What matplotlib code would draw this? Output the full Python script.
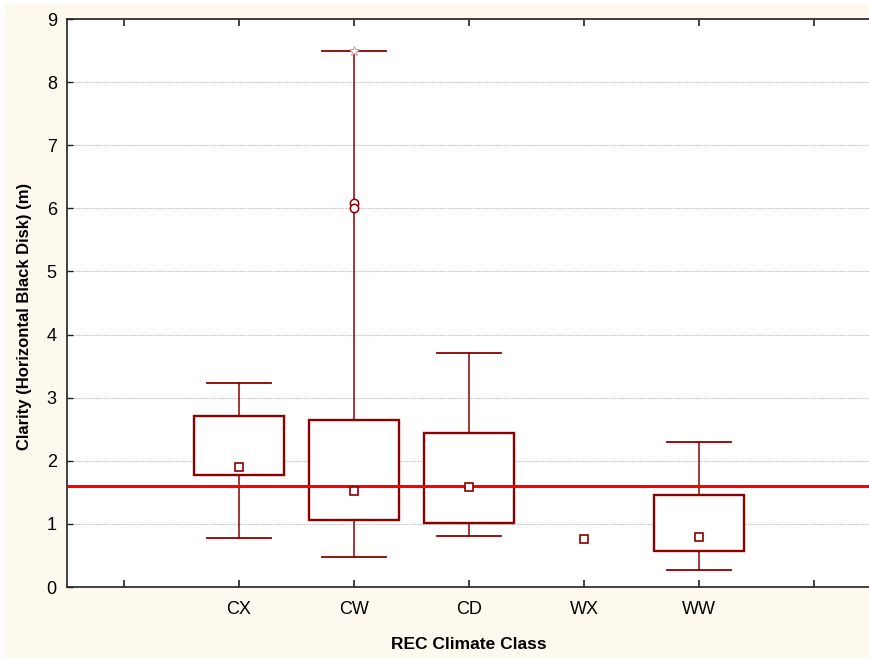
import matplotlib
matplotlib.use("Agg")
import matplotlib.pyplot as plt
from matplotlib.patches import Rectangle
import numpy as np

plt.rcParams['font.family'] = ['Liberation Sans', 'DejaVu Sans']

# Water clarity summary by REC climate class
categories = ["CX", "CW", "CD", "WX", "WW"]
medians = [1.90, 1.52, 1.59, 0.76, 0.80]
q1 = [1.78, 1.06, 1.02, np.nan, 0.575]
q3 = [2.71, 2.65, 2.44, np.nan, 1.45]
whisk_lo = [0.77, 0.48, 0.81, np.nan, 0.27]
whisk_hi = [3.24, 8.50, 3.70, np.nan, 2.30]
outliers = {"CW": [6.08, 6.01]}
extremes = {"CW": [8.50]}
guideline = 1.6

yticks = [0, 1, 2, 3, 4, 5, 6, 7, 8, 9]

dark_red = "#8b0000"
cream = "#fdf9ee"

fig = plt.figure(figsize=(8.69, 6.58), dpi=100, facecolor="white")
fig.patches.append(Rectangle((5 / 869, 0), 1, 1 - 4 / 658, transform=fig.transFigure,
                             facecolor=cream, edgecolor="none", zorder=-10))

ax = fig.add_axes([66.5 / 869, 71 / 658, 805 / 869, 568 / 658])
ax.set_facecolor("white")

positions = np.arange(1, len(categories) + 1)

stats = []
box_pos = []
for i, c in enumerate(categories):
    if np.isnan(q1[i]):
        continue
    stats.append(dict(med=medians[i], q1=q1[i], q3=q3[i],
                      whislo=whisk_lo[i], whishi=whisk_hi[i], fliers=[], label=c))
    box_pos.append(positions[i])

ax.bxp(stats, positions=box_pos, widths=0.79, capwidths=0.56,
       patch_artist=True, showfliers=False,
       boxprops=dict(facecolor="white", edgecolor=dark_red, linewidth=1.7),
       whiskerprops=dict(color=dark_red, linewidth=1.1),
       capprops=dict(color=dark_red, linewidth=1.3),
       medianprops=dict(linewidth=0),
       zorder=2)

# reference line
ax.axhline(guideline, color="#ff0000", linewidth=2.2, zorder=3)

# medians as open squares
ax.plot(positions, medians, linestyle="none", marker="s", markersize=6,
        markerfacecolor="white", markeredgecolor=dark_red, markeredgewidth=1.2, zorder=4)

# outliers and extremes
for c, vals in outliers.items():
    p = positions[categories.index(c)]
    ax.plot([p] * len(vals), vals, linestyle="none", marker="o", markersize=6,
            markerfacecolor="white", markeredgecolor=dark_red, markeredgewidth=1.1, zorder=4)
for c, vals in extremes.items():
    p = positions[categories.index(c)]
    ax.plot([p] * len(vals), vals, linestyle="none", marker="*", markersize=7,
            markerfacecolor="white", markeredgecolor="#d9a0a0", markeredgewidth=0.8, zorder=4)

ax.set_xlim(-0.5, 6.5)
ax.set_ylim(0, 9)
ax.set_yticks(yticks)
ax.set_xticks(np.arange(0, len(categories) + 2))
ax.set_xticklabels([""] + categories + [""])

ax.yaxis.grid(True, linestyle=(0, (1.5, 1.0)), color="#c4c4c4", linewidth=0.8, zorder=0)
ax.set_axisbelow(True)

for s in ["left", "bottom", "top"]:
    ax.spines[s].set_linewidth(1.2)
    ax.spines[s].set_color("#222222")
ax.spines["right"].set_visible(False)

ax.tick_params(axis="both", direction="in", labelsize=13, colors="#222222", labelcolor="black")
ax.tick_params(axis="x", length=5, width=1.2, top=True, pad=10)
ax.tick_params(axis="y", length=4, width=1.0, pad=7)

ax.set_xlabel("REC Climate Class", fontsize=12.5, fontweight="bold", labelpad=14)
fig.text(25 / 869, 1 - 316 / 658, "Clarity (Horizontal Black Disk) (m)", rotation=90,
         ha="center", va="center", fontsize=12, fontweight="bold")

fig.savefig("out.png", dpi=100, facecolor=fig.get_facecolor())
